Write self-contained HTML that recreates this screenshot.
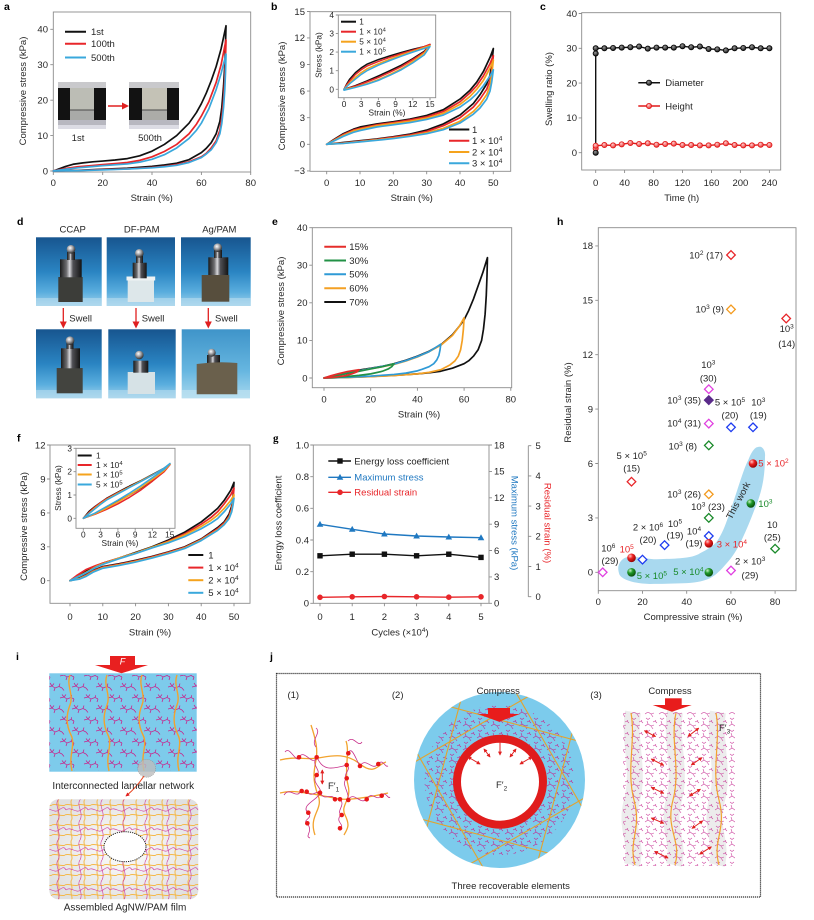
<!DOCTYPE html>
<html><head><meta charset="utf-8"><style>
html,body{margin:0;padding:0;background:#fff;}
svg{display:block;font-family:"Liberation Sans",Arial,sans-serif;}
.t{font-size:9.5px;fill:#262626;}
.s{font-size:8.3px;fill:#262626;}
.L{font-size:10.5px;font-weight:bold;fill:#000;}
.fr{fill:none;stroke:#8c8c8c;stroke-width:0.9;}
.tk{stroke:#8c8c8c;stroke-width:0.9;fill:none;}
.c{fill:none;stroke-width:1.7;vector-effect:non-scaling-stroke;stroke-linejoin:round;stroke-linecap:round;}
.ci{fill:none;stroke-width:1.5;vector-effect:non-scaling-stroke;stroke-linejoin:round;stroke-linecap:round;}
.lg{stroke-width:2;}
</style></head><body>
<svg width="814" height="920" viewBox="0 0 814 920" xmlns="http://www.w3.org/2000/svg">
<defs>
<linearGradient id="bg1" x1="0" y1="0" x2="0" y2="1"><stop offset="0" stop-color="#17558f"/><stop offset="0.5" stop-color="#2a84c2"/><stop offset="0.8" stop-color="#5aaede"/><stop offset="1" stop-color="#a2d3ec"/></linearGradient>
<linearGradient id="bg2" x1="0" y1="0" x2="0" y2="1"><stop offset="0" stop-color="#3f94c9"/><stop offset="0.6" stop-color="#66b6e0"/><stop offset="1" stop-color="#a8d8ee"/></linearGradient>
<linearGradient id="metal" x1="0" y1="0" x2="1" y2="0"><stop offset="0" stop-color="#1a1a1a"/><stop offset="0.3" stop-color="#6d6d70"/><stop offset="0.45" stop-color="#d8d8dc"/><stop offset="0.6" stop-color="#505055"/><stop offset="1" stop-color="#141414"/></linearGradient>
<radialGradient id="sph" cx="0.4" cy="0.35" r="0.7"><stop offset="0" stop-color="#ffffff"/><stop offset="0.45" stop-color="#a0a0a4"/><stop offset="1" stop-color="#1c1c1c"/></radialGradient>
<radialGradient id="gk" cx="0.4" cy="0.35" r="0.7"><stop offset="0" stop-color="#999"/><stop offset="1" stop-color="#0a0a0a"/></radialGradient>
<radialGradient id="gr" cx="0.4" cy="0.35" r="0.7"><stop offset="0" stop-color="#ffd0d0"/><stop offset="1" stop-color="#e82020"/></radialGradient>
<radialGradient id="sr" cx="0.35" cy="0.3" r="0.75"><stop offset="0" stop-color="#ffc8c8"/><stop offset="0.4" stop-color="#ee2222"/><stop offset="1" stop-color="#8a0000"/></radialGradient>
<radialGradient id="sg" cx="0.35" cy="0.3" r="0.75"><stop offset="0" stop-color="#c8f0c8"/><stop offset="0.4" stop-color="#1f9a2a"/><stop offset="1" stop-color="#084808"/></radialGradient>
<radialGradient id="gbox" cx="0.5" cy="0.5" r="0.6"><stop offset="0" stop-color="#fdfdfd"/><stop offset="1" stop-color="#e0e0e0"/></radialGradient>
<circle id="mkk" r="2.6" fill="url(#gk)" stroke="#000" stroke-width="0.8"/>
<circle id="mkr" r="2.6" fill="url(#gr)" stroke="#e01818" stroke-width="0.8"/>
<path id="tri" d="M-3.3,2.5 L3.3,2.5 L0,-3.4 Z" fill="#1f78c1"/>
<rect id="sq" x="-2.7" y="-2.7" width="5.4" height="5.4" fill="#111"/>
<circle id="rc" r="2.8" fill="#e8262a"/>
<path id="dm" d="M0,-4.3 L4.3,0 L0,4.3 L-4.3,0 Z" fill="#fff" stroke-width="1.3"/>
<marker id="ar" viewBox="0 0 6 6" refX="5" refY="3" markerWidth="4" markerHeight="4" orient="auto-start-reverse"><path d="M0,0 L6,3 L0,6 z" fill="#e02020"/></marker>
<pattern id="pbr" width="14" height="12" patternUnits="userSpaceOnUse"><path d="M1,6 L4,4 L7,6 M4,4 L3,1 M7,6 L9,9 M7,6 L10,5 M9,2 L11,1 L13,3 M11,1 L12,0.2 M2,10 L4,11.5 L6,10" fill="none" stroke="#c4258e" stroke-width="0.6"/></pattern>
<pattern id="pl" width="24" height="22" patternUnits="userSpaceOnUse"><path d="M0,5 L4,4 L7,6 L11,4.5 L14,6 M4,4 L2,1 M4,4 L6,1.5 M7,6 L6,9 M11,4.5 L12,1.5 M14,6 L16,8.5 M12,16 L16,15 L19,17 L23,15.5 L24,16 M16,15 L14,12.5 M16,15 L18,12.5 M19,17 L18,20 M23,15.5 L24,13 M0,16 L2,17 M2,17 L1,20" fill="none" stroke="#c8208a" stroke-width="0.75"/></pattern>
<pattern id="pg" width="13" height="10" patternUnits="userSpaceOnUse"><path d="M6.5,0 C4.5,3 8.5,7 6.5,10 M0,5 C3,3 10,7 13,5" stroke="#f4b848" stroke-width="1" fill="none"/></pattern>
<pattern id="pm" width="22" height="20" patternUnits="userSpaceOnUse"><path d="M0,10 C5,6 10,14 15,10 S21,8 22,10 M14,0 C10,5 18,13 14,20" stroke="#d040a0" stroke-width="0.65" fill="none"/></pattern>
<clipPath id="cbox"><rect x="49.3" y="799.3" width="149" height="100" rx="9"/></clipPath>
<clipPath id="cell"><ellipse cx="499.5" cy="780" rx="85.5" ry="88"/></clipPath>
<clipPath id="c3"><rect x="623" y="712" width="112" height="154"/></clipPath>
</defs>

<!-- ================= PANEL A ================= -->
<text class="L" x="4" y="10">a</text>
<rect class="fr" x="53.3" y="12" width="197.4" height="160"/>
<path class="tk" d="M53.3,171h-3M53.3,135.6h-3M53.3,100.2h-3M53.3,64.7h-3M53.3,29.3h-3M53.3,172v3M102.7,172v3M152,172v3M201.4,172v3M250.7,172v3"/>
<g class="t" text-anchor="end"><text x="48" y="174.3">0</text><text x="48" y="138.9">10</text><text x="48" y="103.5">20</text><text x="48" y="68">30</text><text x="48" y="32.6">40</text></g>
<g class="t" text-anchor="middle"><text x="53.3" y="186">0</text><text x="102.7" y="186">20</text><text x="152" y="186">40</text><text x="201.4" y="186">60</text><text x="250.7" y="186">80</text>
<text x="151.7" y="201">Strain (%)</text>
<text transform="translate(26,91) rotate(-90)">Compressive stress (kPa)</text></g>
<g transform="translate(53.3,171) scale(2.4675,-3.542)">
<path class="c" stroke="#111" d="M0,0 L2,0.5 5,1.3 8,1.9 12,2.3 16,2.6 20,2.8 25,3.1 30,3.5 35,4.3 40,5.6 45,7.5 50,10 55,13.5 58,16.5 60,19 62,22 64,25.5 66,29.5 68,34.5 70,41 69.8,36 69.5,30 69,24 68.3,18 67.5,14 66,10.5 64,8 62,6.4 60,5.2 55,3.2 50,2.2 45,1.7 40,1.3 30,0.8 20,0.5 10,0.2 0,0"/>
<path class="c" stroke="#e8262a" d="M0,0 L5,0.7 10,1.2 15,1.5 20,1.8 25,2.1 30,2.4 35,3 40,4 45,5.5 50,7.5 55,10.5 58,13.2 60,15.5 63,19.5 66,25 68,30 70,37 69.8,32 69.5,26 69,20 68.3,15 67.5,11.5 66,8.5 64,6.5 62,5 60,4 55,2.6 50,1.8 45,1.3 40,1 30,0.6 20,0.4 10,0.15 0,0"/>
<path class="c" stroke="#3aa8dc" d="M0,0 L5,0.5 10,0.9 15,1.2 20,1.5 25,1.75 30,2 35,2.5 40,3.3 45,4.6 50,6.5 55,9.2 58,11.5 60,13.5 63,17.5 66,23 68,27.5 70,33 69.8,28 69.5,23 69,18 68.3,13.5 67.5,10.5 66,8 64,6 62,4.8 60,3.8 55,2.4 50,1.6 45,1.2 40,0.9 30,0.55 20,0.3 10,0.1 0,0"/>
</g>
<line class="lg" x1="65" y1="31.7" x2="86" y2="31.7" stroke="#111"/>
<line class="lg" x1="65" y1="43.7" x2="86" y2="43.7" stroke="#e8262a"/>
<line class="lg" x1="65" y1="57.5" x2="86" y2="57.5" stroke="#3aa8dc"/>
<g class="t"><text x="91" y="35">1st</text><text x="91" y="47">100th</text><text x="91" y="60.8">500th</text></g>
<g>
<rect x="58" y="82" width="48" height="47" fill="#707070"/>
<rect x="58" y="82" width="48" height="6" fill="#c9c9cc"/>
<rect x="58" y="88" width="12" height="32" fill="#121212"/>
<rect x="94" y="88" width="12" height="32" fill="#121212"/>
<rect x="70" y="88" width="24" height="22" fill="#bcbdb5"/>
<rect x="70" y="110" width="24" height="10" fill="#a9aaa8"/>
<line x1="70" y1="110" x2="94" y2="110" stroke="#4a4a4a" stroke-width="1"/>
<rect x="58" y="120" width="48" height="5" fill="#b8b8c0"/>
<rect x="58" y="125" width="48" height="4" fill="#dcdce4"/>
<rect x="129" y="82" width="50" height="47" fill="#707070"/>
<rect x="129" y="82" width="50" height="6" fill="#c9c9cc"/>
<rect x="129" y="88" width="13" height="32" fill="#121212"/>
<rect x="167" y="88" width="12" height="32" fill="#121212"/>
<rect x="142" y="88" width="25" height="22" fill="#c4c2b6"/>
<rect x="142" y="110" width="25" height="10" fill="#acaca8"/>
<line x1="142" y1="110" x2="167" y2="110" stroke="#4a4a4a" stroke-width="1"/>
<rect x="129" y="120" width="50" height="5" fill="#b8b8c0"/>
<rect x="129" y="125" width="50" height="4" fill="#dcdce4"/>
<line x1="108" y1="106" x2="123" y2="106" stroke="#e02020" stroke-width="1.5"/>
<path d="M122,102.5 L129,106 L122,109.5 Z" fill="#e02020"/>
</g>
<g class="t" text-anchor="middle"><text x="78" y="141">1st</text><text x="150" y="141">500th</text></g>

<!-- ================= PANEL B ================= -->
<text class="L" x="271" y="10">b</text>
<rect class="fr" x="310" y="11.7" width="200.7" height="159.6"/>
<path class="tk" d="M310,11.5h-3M310,37.9h-3M310,64.5h-3M310,91.1h-3M310,117.7h-3M310,144.3h-3M310,170.9h-3M326.7,171.3v3M360,171.3v3M393.3,171.3v3M426.7,171.3v3M460,171.3v3M493.3,171.3v3"/>
<g class="t" text-anchor="end"><text x="305" y="14.8">15</text><text x="305" y="41.2">12</text><text x="305" y="67.8">9</text><text x="305" y="94.4">6</text><text x="305" y="121">3</text><text x="305" y="147.6">0</text><text x="305" y="174.2">−3</text></g>
<g class="t" text-anchor="middle"><text x="326.7" y="186">0</text><text x="360" y="186">10</text><text x="393.3" y="186">20</text><text x="426.7" y="186">30</text><text x="460" y="186">40</text><text x="493.3" y="186">50</text>
<text x="411.7" y="201">Strain (%)</text>
<text transform="translate(285,96) rotate(-90)">Compressive stress (kPa)</text></g>
<g transform="translate(326.7,144.3) scale(3.333,-8.867)">
<path class="c" stroke="#111" d="M0,0 L2,0.5 5,1.2 8,1.7 10,1.95 15,2.3 20,2.55 25,2.85 30,3.25 35,3.9 40,5.1 43,6.1 45,7 47,8.2 49,9.8 50,10.8 49.5,9 49,7.8 48,6.8 46,5.6 44,4.6 40,3.3 35,2.3 30,1.6 25,1.15 20,0.85 15,0.6 10,0.4 5,0.2 0,0"/>
<path class="c" stroke="#e8262a" d="M0,0 L2,0.45 5,1.1 8,1.6 10,1.8 15,2.2 20,2.45 25,2.75 30,3.1 35,3.7 40,4.8 43,5.8 45,6.6 47,7.7 49,9.1 50,10 49.5,8.3 49,7.2 48,6.2 46,5.1 44,4.2 40,3.0 35,2.1 30,1.45 25,1.05 20,0.8 15,0.55 10,0.35 5,0.15 0,0"/>
<path class="c" stroke="#f5a31d" d="M0,0 L2,0.4 5,1.0 8,1.5 10,1.7 15,2.1 20,2.35 25,2.6 30,2.95 35,3.5 40,4.5 43,5.4 45,6.2 47,7.2 49,8.6 50,9.5 49.5,7.8 49,6.6 48,5.6 46,4.5 44,3.7 40,2.6 35,1.8 30,1.3 25,0.95 20,0.7 15,0.5 10,0.3 5,0.12 0,0"/>
<path class="c" stroke="#3aa8dc" d="M0,0 L2,0.35 5,0.9 8,1.35 10,1.55 15,1.95 20,2.2 25,2.45 30,2.8 35,3.3 40,4.2 43,5 45,5.7 47,6.6 49,7.7 50,8.4 49.5,7 49,6 48,5.1 46,4.1 44,3.4 40,2.4 35,1.65 30,1.2 25,0.9 20,0.65 15,0.45 10,0.27 5,0.1 0,0"/>
</g>
<line class="lg" x1="449" y1="129.5" x2="469.3" y2="129.5" stroke="#111"/>
<line class="lg" x1="449" y1="140.7" x2="469.3" y2="140.7" stroke="#e8262a"/>
<line class="lg" x1="449" y1="152" x2="469.3" y2="152" stroke="#f5a31d"/>
<line class="lg" x1="449" y1="163.3" x2="469.3" y2="163.3" stroke="#3aa8dc"/>
<g class="t"><text x="472" y="132.8">1</text>
<text x="472" y="144">1 × 10<tspan dy="-3.5" font-size="6.5">4</tspan></text>
<text x="472" y="155.3">2 × 10<tspan dy="-3.5" font-size="6.5">4</tspan></text>
<text x="472" y="166.6">3 × 10<tspan dy="-3.5" font-size="6.5">4</tspan></text></g>
<rect x="338.3" y="15" width="97.4" height="82.7" fill="#fff" stroke="#8c8c8c" stroke-width="0.9"/>
<path class="tk" d="M338.3,15h-2.5M338.3,33.6h-2.5M338.3,52.1h-2.5M338.3,70.7h-2.5M338.3,89.3h-2.5M344,97.7v2.5M361.2,97.7v2.5M378.4,97.7v2.5M395.6,97.7v2.5M412.8,97.7v2.5M430,97.7v2.5"/>
<g class="s" text-anchor="end"><text x="334" y="18">4</text><text x="334" y="36.6">3</text><text x="334" y="55.1">2</text><text x="334" y="73.7">1</text><text x="334" y="92.3">0</text></g>
<g class="s" text-anchor="middle"><text x="344" y="107">0</text><text x="361.2" y="107">3</text><text x="378.4" y="107">6</text><text x="395.6" y="107">9</text><text x="412.8" y="107">12</text><text x="430" y="107">15</text>
<text x="387" y="115.5">Strain (%)</text>
<text transform="translate(321.5,55) rotate(-90)">Stress (kPa)</text></g>
<g transform="translate(344,89.3) scale(5.733,-18.58)">
<path class="ci" stroke="#111" d="M0,0 L0.5,0.3 1,0.55 2,0.9 3,1.15 4,1.35 6,1.6 8,1.8 10,1.98 12,2.15 14,2.3 15,2.4 14,2.05 12,1.65 10,1.3 8,1.0 6,0.72 4,0.45 2,0.2 1,0.1 0,0"/>
<path class="ci" stroke="#e8262a" d="M0,0 L0.5,0.25 1,0.45 2,0.8 3,1.05 4,1.25 6,1.5 8,1.72 10,1.92 12,2.1 14,2.3 15,2.42 14,2.0 12,1.6 10,1.22 8,0.92 6,0.64 4,0.4 2,0.17 0,0"/>
<path class="ci" stroke="#f5a31d" d="M0,0 L1,0.35 2,0.65 3,0.9 4,1.1 6,1.38 8,1.62 10,1.85 12,2.05 14,2.25 15,2.35 14,1.95 12,1.5 10,1.1 8,0.8 6,0.52 4,0.3 2,0.12 0,0"/>
<path class="ci" stroke="#3aa8dc" d="M0,0 L1,0.3 2,0.55 3,0.8 4,1.0 6,1.3 8,1.55 10,1.78 12,2.0 14,2.2 15,2.3 14,1.85 12,1.42 10,1.05 8,0.75 6,0.48 4,0.27 2,0.1 0,-0.05"/>
</g>
<line class="lg" x1="341" y1="21.7" x2="356" y2="21.7" stroke="#111"/>
<line class="lg" x1="341" y1="31.7" x2="356" y2="31.7" stroke="#e8262a"/>
<line class="lg" x1="341" y1="41.7" x2="356" y2="41.7" stroke="#f5a31d"/>
<line class="lg" x1="341" y1="51.7" x2="356" y2="51.7" stroke="#3aa8dc"/>
<g class="s"><text x="359.3" y="24.7">1</text>
<text x="359.3" y="34.7">1 × 10<tspan dy="-3" font-size="5.8">4</tspan></text>
<text x="359.3" y="44.7">5 × 10<tspan dy="-3" font-size="5.8">4</tspan></text>
<text x="359.3" y="54.7">1 × 10<tspan dy="-3" font-size="5.8">5</tspan></text></g>

<!-- ================= PANEL C ================= -->
<text class="L" x="540" y="10">c</text>
<rect class="fr" x="581.7" y="12.7" width="199" height="157.3"/>
<path class="tk" d="M581.7,13.5h-3M581.7,48.3h-3M581.7,83.1h-3M581.7,117.9h-3M581.7,152.7h-3M595.7,170v3M624.6,170v3M653.6,170v3M682.5,170v3M711.5,170v3M740.4,170v3M769.4,170v3"/>
<g class="t" text-anchor="end"><text x="577" y="16.8">40</text><text x="577" y="51.6">30</text><text x="577" y="86.4">20</text><text x="577" y="121.2">10</text><text x="577" y="156">0</text></g>
<g class="t" text-anchor="middle"><text x="595.7" y="186">0</text><text x="624.6" y="186">40</text><text x="653.6" y="186">80</text><text x="682.5" y="186">120</text><text x="711.5" y="186">160</text><text x="740.4" y="186">200</text><text x="769.4" y="186">240</text>
<text x="681.7" y="201">Time (h)</text>
<text transform="translate(552,89) rotate(-90)">Swelling ratio (%)</text></g>
<polyline fill="none" stroke="#e01818" stroke-width="1.4" points="595.7,148.5 595.7,145.74 604.4,145.04 613.1,145.39 621.7,144.35 630.4,142.96 639.1,144 647.8,143.3 656.5,144.7 665.2,144 673.8,143.65 682.5,145.04 691.2,145.04 699.9,145.39 708.6,145.39 717.3,144.7 725.9,143.3 734.6,145.04 743.3,145.39 752,145.39 760.7,144.7 769.4,145.04"/>
<polyline fill="none" stroke="#111" stroke-width="1.4" points="595.7,152.7 595.7,53.5 595.7,48.3 604.4,48.3 613.1,47.95 621.7,47.6 630.4,47.26 639.1,46.56 647.8,48.65 656.5,47.6 665.2,47.6 673.8,47.6 682.5,46.2 691.2,47.26 699.9,46.56 708.6,49 717.3,49.35 725.9,50.4 734.6,48.3 743.3,47.95 752,47.26 760.7,48.3 769.4,48.3"/>
<g>
<use href="#mkr" x="595.7" y="148.5"/><use href="#mkr" x="595.7" y="145.74"/><use href="#mkr" x="604.4" y="145.04"/><use href="#mkr" x="613.1" y="145.39"/><use href="#mkr" x="621.7" y="144.35"/><use href="#mkr" x="630.4" y="142.96"/><use href="#mkr" x="639.1" y="144"/><use href="#mkr" x="647.8" y="143.3"/><use href="#mkr" x="656.5" y="144.7"/><use href="#mkr" x="665.2" y="144"/><use href="#mkr" x="673.8" y="143.65"/><use href="#mkr" x="682.5" y="145.04"/><use href="#mkr" x="691.2" y="145.04"/><use href="#mkr" x="699.9" y="145.39"/><use href="#mkr" x="708.6" y="145.39"/><use href="#mkr" x="717.3" y="144.7"/><use href="#mkr" x="725.9" y="143.3"/><use href="#mkr" x="734.6" y="145.04"/><use href="#mkr" x="743.3" y="145.39"/><use href="#mkr" x="752" y="145.39"/><use href="#mkr" x="760.7" y="144.7"/><use href="#mkr" x="769.4" y="145.04"/>
<use href="#mkk" x="595.7" y="152.7"/><use href="#mkk" x="595.7" y="53.5"/><use href="#mkk" x="595.7" y="48.3"/><use href="#mkk" x="604.4" y="48.3"/><use href="#mkk" x="613.1" y="47.95"/><use href="#mkk" x="621.7" y="47.6"/><use href="#mkk" x="630.4" y="47.26"/><use href="#mkk" x="639.1" y="46.56"/><use href="#mkk" x="647.8" y="48.65"/><use href="#mkk" x="656.5" y="47.6"/><use href="#mkk" x="665.2" y="47.6"/><use href="#mkk" x="673.8" y="47.6"/><use href="#mkk" x="682.5" y="46.2"/><use href="#mkk" x="691.2" y="47.26"/><use href="#mkk" x="699.9" y="46.56"/><use href="#mkk" x="708.6" y="49"/><use href="#mkk" x="717.3" y="49.35"/><use href="#mkk" x="725.9" y="50.4"/><use href="#mkk" x="734.6" y="48.3"/><use href="#mkk" x="743.3" y="47.95"/><use href="#mkk" x="752" y="47.26"/><use href="#mkk" x="760.7" y="48.3"/><use href="#mkk" x="769.4" y="48.3"/>
</g>
<line x1="638.3" y1="82.7" x2="660" y2="82.7" stroke="#111" stroke-width="1.5"/><use href="#mkk" x="649" y="82.7"/>
<line x1="638.3" y1="106" x2="660" y2="106" stroke="#e01818" stroke-width="1.5"/><use href="#mkr" x="649" y="106"/>
<g class="t"><text x="665.3" y="86">Diameter</text><text x="665.3" y="109.3">Height</text></g>

<!-- ================= PANEL D ================= -->
<text class="L" x="17" y="225">d</text>
<g class="t" text-anchor="middle"><text x="72.7" y="232.5">CCAP</text><text x="141.7" y="232.5">DF-PAM</text><text x="219.3" y="232.5">Ag/PAM</text></g>
<rect x="36" y="237.3" width="65.7" height="68.7" fill="url(#bg1)"/>
<rect x="36" y="298" width="65.7" height="8" fill="#b8dcee" opacity="0.6"/>
<rect x="58.3" y="277" width="24.4" height="25" fill="#3c3d39"/>
<rect x="60" y="259.3" width="21.7" height="18" fill="url(#metal)"/>
<rect x="67" y="252" width="8" height="8" fill="url(#metal)"/>
<circle cx="71" cy="249.3" r="4.3" fill="url(#sph)"/>
<rect x="106.7" y="237.3" width="68.3" height="68.7" fill="url(#bg1)"/>
<rect x="106.7" y="298" width="68.3" height="8" fill="#b8dcee" opacity="0.6"/>
<rect x="127.7" y="278" width="26.3" height="24" fill="#dde7ea"/>
<rect x="126.5" y="276.5" width="28.7" height="4" fill="#eef3f4"/>
<rect x="132.7" y="262.7" width="14" height="15.6" fill="url(#metal)"/>
<rect x="136" y="256" width="7" height="7" fill="url(#metal)"/>
<circle cx="139.3" cy="253.3" r="4.3" fill="url(#sph)"/>
<rect x="181" y="237.3" width="69.7" height="68.7" fill="url(#bg1)"/>
<rect x="181" y="298" width="69.7" height="8" fill="#b8dcee" opacity="0.6"/>
<rect x="201.7" y="275" width="27.6" height="26.7" fill="#574e3d"/>
<rect x="208.3" y="257.3" width="20" height="17.7" fill="url(#metal)"/>
<rect x="214" y="250" width="8" height="8" fill="url(#metal)"/>
<circle cx="217.7" cy="247.7" r="4.3" fill="url(#sph)"/>
<rect x="36" y="329.3" width="65.7" height="69" fill="url(#bg1)"/>
<rect x="36" y="390" width="65.7" height="8.3" fill="#b8dcee" opacity="0.6"/>
<rect x="56.7" y="368" width="26" height="25.3" fill="#43443f"/>
<rect x="61" y="348.3" width="19" height="20" fill="url(#metal)"/>
<rect x="66.5" y="343" width="7" height="6" fill="url(#metal)"/>
<circle cx="70" cy="340.7" r="4.3" fill="url(#sph)"/>
<rect x="108.3" y="329.3" width="67.4" height="69" fill="url(#bg1)"/>
<rect x="108.3" y="390" width="67.4" height="8.3" fill="#b8dcee" opacity="0.6"/>
<rect x="127.7" y="372" width="27.3" height="22" fill="#d6e2e6"/>
<rect x="133.3" y="360.7" width="15" height="12" fill="url(#metal)"/>
<circle cx="139.3" cy="355" r="4.3" fill="url(#sph)"/>
<rect x="181.7" y="329.3" width="68.3" height="69" fill="url(#bg2)"/>
<rect x="181.7" y="390" width="68.3" height="8.3" fill="#c4e4f2" opacity="0.6"/>
<rect x="207" y="355" width="13" height="9" fill="url(#metal)"/>
<circle cx="211.7" cy="352.7" r="4" fill="url(#sph)"/>
<path d="M196.7,364 Q217,361 237.3,363 L237.3,394.3 L196.7,394.3 Z" fill="#6a604c"/>
<g stroke="#e02020" stroke-width="1.3"><line x1="63.3" y1="308" x2="63.3" y2="323"/><line x1="136" y1="308" x2="136" y2="323"/><line x1="208.3" y1="308" x2="208.3" y2="323"/></g>
<g fill="#e02020"><path d="M59.8,321.5 L66.8,321.5 L63.3,328.5 Z"/><path d="M132.5,321.5 L139.5,321.5 L136,328.5 Z"/><path d="M204.8,321.5 L211.8,321.5 L208.3,328.5 Z"/></g>
<g class="t"><text x="69.3" y="321.5">Swell</text><text x="141.7" y="321.5">Swell</text><text x="215" y="321.5">Swell</text></g>

<!-- ================= PANEL E ================= -->
<text class="L" x="272" y="225">e</text>
<rect class="fr" x="312.3" y="227.7" width="199.4" height="160"/>
<path class="tk" d="M312.3,227.7h-3M312.3,265.2h-3M312.3,302.8h-3M312.3,340.4h-3M312.3,378h-3M324,387.7v3M370.7,387.7v3M417.4,387.7v3M464.1,387.7v3M510.8,387.7v3"/>
<g class="t" text-anchor="end"><text x="307.5" y="231">40</text><text x="307.5" y="268.5">30</text><text x="307.5" y="306.1">20</text><text x="307.5" y="343.7">10</text><text x="307.5" y="381.3">0</text></g>
<g class="t" text-anchor="middle"><text x="324" y="402.5">0</text><text x="370.7" y="402.5">20</text><text x="417.4" y="402.5">40</text><text x="464.1" y="402.5">60</text><text x="510.8" y="402.5">80</text>
<text x="419" y="417.5">Strain (%)</text>
<text transform="translate(284,311) rotate(-90)">Compressive stress (kPa)</text></g>
<g transform="translate(324,378) scale(2.335,-3.76)">
<path class="c" stroke="#111" d="M0,0 L5,0.8 10,1.5 15,2.1 20,2.6 25,3.1 30,3.8 35,4.7 40,5.8 45,7.1 50,8.8 55,11.5 58,13.8 60,15.5 62,18 64,21 66,24.5 68,28 70,32 69.8,27 69.5,22 69,17 68.3,13 67.5,10 66,7.5 64,5.8 62,4.6 60,3.8 55,2.6 50,1.8 45,1.4 40,1.1 30,0.7 20,0.4 10,0.15 0,0"/>
<path class="c" stroke="#f4a024" d="M0,0 L5,0.7 10,1.3 15,1.9 20,2.5 25,3.0 30,3.6 35,4.5 40,5.6 45,7.0 50,8.7 55,11.3 58,13.8 60,16 59.7,13 59.2,10 58.5,7.5 57.5,5.8 56,4.5 54,3.5 50,2.2 45,1.5 40,1.1 30,0.65 20,0.35 10,0.12 0,0"/>
<path class="c" stroke="#2f9ad6" d="M0,0 L5,0.7 10,1.3 15,1.9 20,2.5 25,3.1 30,3.7 35,4.6 40,5.7 45,7.0 50,9 49.7,7.5 49.2,6 48.3,4.8 47,3.8 45,3.0 42,2.3 40,1.9 35,1.3 30,0.95 20,0.5 10,0.2 0,0"/>
<path class="c" stroke="#229146" d="M0,0 L5,0.6 10,1.2 15,1.8 20,2.4 25,3.0 30,3.8 29,3.0 27.5,2.4 25,1.8 20,1.1 15,0.7 10,0.4 5,0.15 0,0"/>
<path class="c" stroke="#e52d2a" d="M0,0 L3,0.6 6,1.1 10,1.7 13,2.0 15,2.2 14,1.6 12,1.1 9,0.6 5,0.25 0,0"/>
</g>
<line class="lg" x1="324.3" y1="246.7" x2="346" y2="246.7" stroke="#e52d2a"/>
<line class="lg" x1="324.3" y1="260.5" x2="346" y2="260.5" stroke="#229146"/>
<line class="lg" x1="324.3" y1="274.3" x2="346" y2="274.3" stroke="#2f9ad6"/>
<line class="lg" x1="324.3" y1="288.2" x2="346" y2="288.2" stroke="#f4a024"/>
<line class="lg" x1="324.3" y1="302" x2="346" y2="302" stroke="#111"/>
<g class="t"><text x="349.3" y="250">15%</text><text x="349.3" y="263.8">30%</text><text x="349.3" y="277.6">50%</text><text x="349.3" y="291.5">60%</text><text x="349.3" y="305.3">70%</text></g>

<!-- ================= PANEL H ================= -->
<text class="L" x="557" y="225">h</text>
<path d="M618.3,566.7 C620,560 624,557 630,556.7 C640,557 650,559.5 656.7,559.3 C666,559 674,558.8 680,558.3 C690,557.5 696,556 700,553.3 C708,549 713,546 716.7,541.7 C722,534 725,526 728.3,516.7 C732,506 735,497 738.3,486.7 C742,476 745,466 748.3,460 C751,453 754,448.5 756.7,447.3 C759,446.5 761,446.5 761.7,447.3 C764,449 765.5,452 765,456.7 C765,465 764.5,472 763.3,480 C761.5,491 758.5,500 755,508.3 C751,519 746.5,530 741.7,540 C737,550 732,557.5 726.7,563.3 C721,570 716,575 710,578.3 C702,582 693,583 683.3,583.3 C672,583.7 660,584 650,584 C641,583.8 633,582.5 626.7,580 C622,578 619.5,576 619,573.3 C618.5,571 618,569 618.3,566.7 Z" fill="#a9d9ef"/>
<rect class="fr" x="598.3" y="227.7" width="197.7" height="363"/>
<path class="tk" d="M598.3,245.9h-3M598.3,300.3h-3M598.3,354.7h-3M598.3,409.1h-3M598.3,463.5h-3M598.3,517.9h-3M598.3,572.3h-3M598.3,590.7v3M642.5,590.7v3M686.7,590.7v3M730.9,590.7v3M775.1,590.7v3"/>
<g class="t" text-anchor="end"><text x="593" y="249.2">18</text><text x="593" y="303.6">15</text><text x="593" y="358">12</text><text x="593" y="412.4">9</text><text x="593" y="466.8">6</text><text x="593" y="521.2">3</text><text x="593" y="575.6">0</text></g>
<g class="t" text-anchor="middle"><text x="598.3" y="605">0</text><text x="642.5" y="605">20</text><text x="686.7" y="605">40</text><text x="730.9" y="605">60</text><text x="775.1" y="605">80</text>
<text x="693" y="620">Compressive strain (%)</text>
<text transform="translate(571,402.5) rotate(-90)">Residual strain (%)</text>
<text transform="translate(741,502) rotate(-62)">This work</text></g>
<use href="#dm" x="731" y="255" stroke="#e8262a"/>
<use href="#dm" x="731" y="309.4" stroke="#f39a1e"/>
<use href="#dm" x="786.2" y="318.5" stroke="#e8262a"/>
<use href="#dm" x="708.8" y="389.2" stroke="#e040e0"/>
<path d="M708.8,395.8 L713.1,400.1 L708.8,404.4 L704.5,400.1 Z" fill="#5a2a8a" stroke="#5a2a8a" stroke-width="1.3"/>
<use href="#dm" x="731" y="427.3" stroke="#1e3cf0"/>
<use href="#dm" x="753" y="427.3" stroke="#1e3cf0"/>
<use href="#dm" x="708.8" y="423.6" stroke="#e040e0"/>
<use href="#dm" x="708.8" y="445.4" stroke="#1a8a2a"/>
<use href="#dm" x="631.5" y="481.7" stroke="#e8262a"/>
<use href="#dm" x="708.8" y="494.3" stroke="#f39a1e"/>
<use href="#dm" x="708.8" y="517.9" stroke="#1a8a2a"/>
<use href="#dm" x="708.8" y="536" stroke="#1e3cf0"/>
<use href="#dm" x="664.6" y="545.1" stroke="#1e3cf0"/>
<use href="#dm" x="642.5" y="559.6" stroke="#1e3cf0"/>
<use href="#dm" x="602.7" y="572.3" stroke="#e040e0"/>
<use href="#dm" x="731" y="570.5" stroke="#e040e0"/>
<use href="#dm" x="775.1" y="548.7" stroke="#1a8a2a"/>
<circle cx="753" cy="463.5" r="4.3" fill="url(#sr)"/>
<circle cx="750.8" cy="503.4" r="4.3" fill="url(#sg)"/>
<circle cx="708.8" cy="543.3" r="4.3" fill="url(#sr)"/>
<circle cx="631.5" cy="557.8" r="4.3" fill="url(#sr)"/>
<circle cx="631.5" cy="572.3" r="4.3" fill="url(#sg)"/>
<circle cx="708.8" cy="572.3" r="4.3" fill="url(#sg)"/>
<g class="t" text-anchor="end">
<text x="723" y="258.5">10<tspan dy="-3.5" font-size="6.5">2</tspan><tspan dy="3.5"> (17)</tspan></text>
<text x="724" y="312.5">10<tspan dy="-3.5" font-size="6.5">3</tspan><tspan dy="3.5"> (9)</tspan></text>
<text x="701" y="403.5">10<tspan dy="-3.5" font-size="6.5">3</tspan><tspan dy="3.5"> (35)</tspan></text>
<text x="701" y="426.5">10<tspan dy="-3.5" font-size="6.5">4</tspan><tspan dy="3.5"> (31)</tspan></text>
<text x="697" y="449.5">10<tspan dy="-3.5" font-size="6.5">3</tspan><tspan dy="3.5"> (8)</tspan></text>
<text x="701" y="497.5">10<tspan dy="-3.5" font-size="6.5">3</tspan><tspan dy="3.5"> (26)</tspan></text>
<text x="703.5" y="575" fill="#1a8a2a">5 × 10<tspan dy="-3.5" font-size="6.5">4</tspan></text>
</g>
<g class="t" text-anchor="middle">
<text x="786.7" y="332">10<tspan dy="-3.5" font-size="6.5">3</tspan></text><text x="786.7" y="347">(14)</text>
<text x="708.3" y="368">10<tspan dy="-3.5" font-size="6.5">3</tspan></text><text x="708.3" y="381.5">(30)</text>
<text x="730" y="405.5">5 × 10<tspan dy="-3.5" font-size="6.5">5</tspan></text><text x="730" y="418.5">(20)</text>
<text x="758.3" y="405.5">10<tspan dy="-3.5" font-size="6.5">3</tspan></text><text x="758.3" y="418.5">(19)</text>
<text x="631.7" y="459">5 × 10<tspan dy="-3.5" font-size="6.5">5</tspan></text><text x="631.7" y="471.5">(15)</text>
<text x="708" y="510">10<tspan dy="-3.5" font-size="6.5">3</tspan><tspan dy="3.5"> (23)</tspan></text>
<text x="694" y="534.5">10<tspan dy="-3.5" font-size="6.5">4</tspan></text><text x="694" y="546.5">(19)</text>
<text x="675" y="527">10<tspan dy="-3.5" font-size="6.5">5</tspan></text><text x="675" y="538.5">(19)</text>
<text x="648" y="530.5">2 × 10<tspan dy="-3.5" font-size="6.5">6</tspan></text><text x="648" y="543">(20)</text>
<text x="608.3" y="551.5">10<tspan dy="-3.5" font-size="6.5">6</tspan></text><text x="610" y="564">(29)</text>
<text x="750" y="578.5">(29)</text>
<text x="772.3" y="528">10</text><text x="772.3" y="540.5">(25)</text>
<text x="626.7" y="552.5" fill="#e8262a">10<tspan dy="-3.5" font-size="6.5">5</tspan></text>
</g>
<g class="t">
<text x="758.3" y="466.5" fill="#e8262a">5 × 10<tspan dy="-3.5" font-size="6.5">2</tspan></text>
<text x="758.3" y="507" fill="#1a8a2a">10<tspan dy="-3.5" font-size="6.5">3</tspan></text>
<text x="716.7" y="547.5" fill="#e8262a">3 × 10<tspan dy="-3.5" font-size="6.5">4</tspan></text>
<text x="636.7" y="579" fill="#1a8a2a">5 × 10<tspan dy="-3.5" font-size="6.5">5</tspan></text>
<text x="735" y="564.5">2 × 10<tspan dy="-3.5" font-size="6.5">3</tspan></text>
</g>

<!-- ================= PANEL F ================= -->
<text class="L" x="17" y="441.5">f</text>
<rect class="fr" x="50" y="445" width="200" height="158.3"/>
<path class="tk" d="M50,445h-3M50,479h-3M50,512.9h-3M50,546.8h-3M50,580.7h-3M70,603.3v3M102.8,603.3v3M135.6,603.3v3M168.4,603.3v3M201.2,603.3v3M234,603.3v3"/>
<g class="t" text-anchor="end"><text x="45.5" y="448.3">12</text><text x="45.5" y="482.3">9</text><text x="45.5" y="516.2">6</text><text x="45.5" y="550.1">3</text><text x="45.5" y="584">0</text></g>
<g class="t" text-anchor="middle"><text x="70" y="620">0</text><text x="102.8" y="620">10</text><text x="135.6" y="620">20</text><text x="168.4" y="620">30</text><text x="201.2" y="620">40</text><text x="234" y="620">50</text>
<text x="150" y="635.5">Strain (%)</text>
<text transform="translate(27,526.5) rotate(-90)">Compressive stress (kPa)</text></g>
<g transform="translate(70,580.7) scale(3.28,-11.3)">
<path class="c" stroke="#111" d="M0,0 L2,0.4 5,0.9 8,1.3 10,1.55 15,2.0 20,2.5 25,3.0 30,3.6 35,4.3 40,5.2 43,5.9 45,6.4 47,7.1 49,8.0 50,8.7 49.7,7.5 49.3,6.6 48.5,5.9 47,5.2 45,4.7 40,3.7 35,3.0 30,2.55 25,2.15 20,1.8 15,1.5 10,1.25 7,0.9 5,0.55 3,0.25 0,0"/>
<path class="c" stroke="#e8262a" d="M0,0 L2,0.45 5,1.0 8,1.35 10,1.55 15,2.0 20,2.45 25,2.95 30,3.5 35,4.15 40,5.0 43,5.6 45,6.1 47,6.8 49,7.6 50,8.2 49.7,7.2 49.3,6.4 48.5,5.7 47,5.1 45,4.6 40,3.65 35,2.95 30,2.5 25,2.1 20,1.75 15,1.45 10,1.2 7,0.85 5,0.5 3,0.2 0,0"/>
<path class="c" stroke="#f5a31d" d="M0,0 L2,0.3 5,0.75 8,1.25 10,1.5 15,2.0 20,2.45 25,2.95 30,3.45 35,4.05 40,4.8 43,5.35 45,5.8 47,6.4 49,7.1 50,7.6 49.7,6.9 49.3,6.2 48.5,5.6 47,5.0 45,4.5 40,3.6 35,2.9 30,2.45 25,2.05 20,1.7 15,1.4 10,1.15 7,0.8 5,0.45 3,0.2 0,0"/>
<path class="c" stroke="#3aa8dc" d="M0,0 L2,0.3 5,0.7 8,1.2 10,1.45 15,1.95 20,2.4 25,2.9 30,3.35 35,3.9 40,4.6 43,5.1 45,5.5 47,6.1 49,6.8 50,7.3 49.7,6.7 49.3,6.1 48.5,5.5 47,4.95 45,4.45 40,3.55 35,2.85 30,2.4 25,2.0 20,1.65 15,1.35 10,1.1 7,0.75 5,0.4 3,0.15 0,0"/>
</g>
<line class="lg" x1="188.3" y1="555" x2="203.3" y2="555" stroke="#111"/>
<line class="lg" x1="188.3" y1="567.6" x2="203.3" y2="567.6" stroke="#e8262a"/>
<line class="lg" x1="188.3" y1="580.2" x2="203.3" y2="580.2" stroke="#f5a31d"/>
<line class="lg" x1="188.3" y1="592.8" x2="203.3" y2="592.8" stroke="#3aa8dc"/>
<g class="t"><text x="208.3" y="558.3">1</text>
<text x="208.3" y="570.9">1 × 10<tspan dy="-3.5" font-size="6.5">4</tspan></text>
<text x="208.3" y="583.5">2 × 10<tspan dy="-3.5" font-size="6.5">4</tspan></text>
<text x="208.3" y="596.1">5 × 10<tspan dy="-3.5" font-size="6.5">4</tspan></text></g>
<rect x="76" y="448.3" width="99" height="80" fill="#fff" stroke="#8c8c8c" stroke-width="0.9"/>
<path class="tk" d="M76,518.3h-2.5M76,495h-2.5M76,471.7h-2.5M76,448.3h-2.5M83.3,528.3v2.5M100.6,528.3v2.5M117.9,528.3v2.5M135.2,528.3v2.5M152.4,528.3v2.5M169.7,528.3v2.5"/>
<g class="s" text-anchor="end"><text x="72" y="521.3">0</text><text x="72" y="498">1</text><text x="72" y="474.7">2</text><text x="72" y="451.3">3</text></g>
<g class="s" text-anchor="middle"><text x="83.3" y="537.5">0</text><text x="100.6" y="537.5">3</text><text x="117.9" y="537.5">6</text><text x="135.2" y="537.5">9</text><text x="152.4" y="537.5">12</text><text x="169.7" y="537.5">15</text>
<text x="120" y="546">Strain (%)</text>
<text transform="translate(61,488) rotate(-90)">Stress (kPa)</text></g>
<g transform="translate(83.3,518.3) scale(5.778,-23.33)">
<path class="ci" stroke="#111" d="M0,0 L1,0.3 2,0.5 3,0.68 4,0.85 6,1.12 8,1.38 10,1.62 12,1.88 14,2.15 15,2.32 14,2.05 12,1.65 10,1.3 8,1.0 6,0.72 4,0.45 2,0.2 0,0"/>
<path class="ci" stroke="#e8262a" d="M0,0 L1,0.25 2,0.48 3,0.67 4,0.83 6,1.1 8,1.35 10,1.6 12,1.86 14,2.14 15,2.3 14,2.0 12,1.6 10,1.22 8,0.9 6,0.62 4,0.38 2,0.17 0,0"/>
<path class="ci" stroke="#f5a31d" d="M0,0 L1,0.22 2,0.44 3,0.63 4,0.8 6,1.08 8,1.34 10,1.6 12,1.86 14,2.14 15,2.32 14,2.05 12,1.68 10,1.32 8,1.0 6,0.7 4,0.43 2,0.19 0,0"/>
<path class="ci" stroke="#3aa8dc" d="M0,0 L1,0.2 2,0.4 3,0.6 4,0.78 6,1.05 8,1.32 10,1.58 12,1.85 14,2.15 15,2.35 14,2.1 12,1.75 10,1.4 8,1.08 6,0.78 4,0.5 2,0.22 0,0"/>
</g>
<line class="lg" x1="77.7" y1="455.5" x2="91.7" y2="455.5" stroke="#111"/>
<line class="lg" x1="77.7" y1="465" x2="91.7" y2="465" stroke="#e8262a"/>
<line class="lg" x1="77.7" y1="474.5" x2="91.7" y2="474.5" stroke="#f5a31d"/>
<line class="lg" x1="77.7" y1="484.5" x2="91.7" y2="484.5" stroke="#3aa8dc"/>
<g class="s"><text x="96" y="458.5">1</text>
<text x="96" y="468">1 × 10<tspan dy="-3" font-size="5.8">4</tspan></text>
<text x="96" y="477.5">1 × 10<tspan dy="-3" font-size="5.8">5</tspan></text>
<text x="96" y="487.5">5 × 10<tspan dy="-3" font-size="5.8">5</tspan></text></g>

<!-- ================= PANEL G ================= -->
<text x="273" y="441.5" style="font-family:'Liberation Serif',serif;font-size:11px;font-weight:bold;">g</text>
<rect class="fr" x="313.3" y="445" width="175.7" height="158.3"/>
<path class="tk" d="M313.3,445h-3M313.3,476.7h-3M313.3,508.3h-3M313.3,540h-3M313.3,571.7h-3M313.3,603.3h-3M489,445h3M489,471.4h3M489,497.8h3M489,524.2h3M489,550.5h3M489,576.9h3M489,603.3h3M320,603.3v3M352.2,603.3v3M384.4,603.3v3M416.6,603.3v3M448.8,603.3v3M481,603.3v3"/>
<path class="tk" d="M528.3,445.7V596.7M528.3,445.7h3M528.3,475.9h3M528.3,506.1h3M528.3,536.3h3M528.3,566.5h3M528.3,596.7h3"/>
<g class="t" text-anchor="end"><text x="309" y="448.3">1.0</text><text x="309" y="480">0.8</text><text x="309" y="511.6">0.6</text><text x="309" y="543.3">0.4</text><text x="309" y="575">0.2</text><text x="309" y="606.6">0</text></g>
<g class="t"><text x="494" y="448.3">18</text><text x="494" y="474.7">15</text><text x="494" y="501.1">12</text><text x="494" y="527.5">9</text><text x="494" y="553.8">6</text><text x="494" y="580.2">3</text><text x="494" y="606.6">0</text>
<text x="535.5" y="449">5</text><text x="535.5" y="479.2">4</text><text x="535.5" y="509.4">3</text><text x="535.5" y="539.6">2</text><text x="535.5" y="569.8">1</text><text x="535.5" y="600">0</text></g>
<g class="t" text-anchor="middle"><text x="320" y="620">0</text><text x="352.2" y="620">1</text><text x="384.4" y="620">2</text><text x="416.6" y="620">3</text><text x="448.8" y="620">4</text><text x="481" y="620">5</text>
<text x="400" y="635.5">Cycles (×10<tspan dy="-3.5" font-size="6.5">4</tspan><tspan dy="3.5">)</tspan></text>
<text transform="translate(281.5,523) rotate(-90)">Energy loss coefficient</text>
<text transform="translate(511.5,523) rotate(90)" fill="#1f78c1">Maximum stress (kPa)</text>
<text transform="translate(544.5,523) rotate(90)" fill="#e8262a">Residual strain (%)</text></g>
<polyline fill="none" stroke="#1f78c1" stroke-width="1.4" points="320,524.3 352.2,529.3 384.4,534 416.6,536 448.8,537 481,537.7"/>
<polyline fill="none" stroke="#111" stroke-width="1.4" points="320,555.8 352.2,554.2 384.4,554.2 416.6,555.8 448.8,554.2 481,557.4"/>
<polyline fill="none" stroke="#e8262a" stroke-width="1.4" points="320,597.3 352.2,596.8 384.4,596.5 416.6,596.8 448.8,597.2 481,596.8"/>
<use href="#tri" x="320" y="524.3"/><use href="#tri" x="352.2" y="529.3"/><use href="#tri" x="384.4" y="534"/><use href="#tri" x="416.6" y="536"/><use href="#tri" x="448.8" y="537"/><use href="#tri" x="481" y="537.7"/>
<use href="#sq" x="320" y="555.8"/><use href="#sq" x="352.2" y="554.2"/><use href="#sq" x="384.4" y="554.2"/><use href="#sq" x="416.6" y="555.8"/><use href="#sq" x="448.8" y="554.2"/><use href="#sq" x="481" y="557.4"/>
<use href="#rc" x="320" y="597.3"/><use href="#rc" x="352.2" y="596.8"/><use href="#rc" x="384.4" y="596.5"/><use href="#rc" x="416.6" y="596.8"/><use href="#rc" x="448.8" y="597.2"/><use href="#rc" x="481" y="596.8"/>
<line x1="328.3" y1="461" x2="351" y2="461" stroke="#111" stroke-width="1.4"/><use href="#sq" x="340" y="461"/>
<line x1="328.3" y1="477.3" x2="351" y2="477.3" stroke="#1f78c1" stroke-width="1.4"/><use href="#tri" x="340" y="477.3"/>
<line x1="328.3" y1="492.3" x2="351" y2="492.3" stroke="#e8262a" stroke-width="1.4"/><use href="#rc" x="340" y="492.3"/>
<g class="t"><text x="354.3" y="464.3">Energy loss coefficient</text><text x="354.3" y="480.6" fill="#1f78c1">Maximum stress</text><text x="354.3" y="495.6" fill="#e8262a">Residual strain</text></g>

<!-- ================= PANEL I ================= -->
<text class="L" x="16" y="660">i</text>
<rect x="49.3" y="673.3" width="147.4" height="98.4" fill="#7dcbeb"/>
<rect x="49.3" y="675" width="147.4" height="96" fill="url(#pl)"/>
<g fill="none" stroke="#f2a32e" stroke-width="1.4">
<path d="M70,675 C66,685 74,695 70,705 S66,725 71,735 S68,755 72,771"/>
<path d="M107,675 C103,685 111,695 107,705 S103,725 108,735 S105,755 109,771"/>
<path d="M142,675 C138,685 146,695 142,705 S138,725 143,735 S140,755 144,771"/>
<path d="M177,675 C173,685 181,695 177,705 S173,725 178,735 S175,755 179,771"/>
</g>
<rect x="110" y="656" width="25" height="9" fill="#e82020"/>
<path d="M95,665 L148,665 L121.5,673.3 Z" fill="#e82020"/>
<text x="122.5" y="664.5" text-anchor="middle" style="font-size:9px;font-style:italic;fill:#fff;">F</text>
<circle cx="146.7" cy="768.3" r="9" fill="#bdbdbd" opacity="0.8" stroke="#888" stroke-width="0.6" stroke-dasharray="1,1"/>
<path d="M144,776 Q136,788 126,796" fill="none" stroke="#e8401a" stroke-width="1" marker-end="url(#ar)"/>
<text x="123.3" y="789" text-anchor="middle" style="font-size:10px;fill:#262626;">Interconnected lamellar network</text>
<rect x="49.3" y="799.3" width="149" height="100" rx="9" fill="url(#gbox)"/>
<g clip-path="url(#cbox)">
<rect x="49.3" y="799.3" width="149" height="100" fill="url(#pg)"/>
<rect x="49.3" y="799.3" width="149" height="100" fill="url(#pm)"/>
</g>
<ellipse cx="125" cy="846.7" rx="21" ry="15" fill="#fff" stroke="#222" stroke-width="1" stroke-dasharray="1.2,1"/>
<text x="125" y="910.5" text-anchor="middle" style="font-size:10px;fill:#262626;">Assembled AgNW/PAM film</text>

<!-- ================= PANEL J ================= -->
<text class="L" x="270" y="660">j</text>
<rect x="276.5" y="673.5" width="484" height="223.5" fill="none" stroke="#333" stroke-width="1.2" stroke-dasharray="1.2,0.8"/>
<g fill="none" stroke="#f2a32e" stroke-width="1.3">
<path d="M280,760 C295,756 305,760 318,758 S345,752 360,764 S378,764 386,762"/>
<path d="M280,793 C292,790 300,792 318,795 S340,800 352,799 S375,796 388,793"/>
<path d="M311,725 C316,740 318,750 316,760 S312,780 318,795 S308,815 315,835"/>
<path d="M346,741 C350,752 344,770 348,785 S340,805 345,815 S348,828 344,835"/>
</g>
<g fill="none" stroke="#c8308a" stroke-width="0.8">
<path d="M285,752 C290,745 296,765 300,757"/><path d="M299,757 C305,748 312,768 317,757"/><path d="M317,757 C322,770 330,770 347,765"/>
<path d="M348,753 C352,745 356,760 360,766"/><path d="M360,766 C366,756 372,772 378,764"/><path d="M378,764 C383,758 385,768 388,766"/>
<path d="M317,757 C310,765 322,770 317,775"/><path d="M317,775 C310,782 323,788 320,793"/><path d="M301,791 C296,800 290,786 284,795"/>
<path d="M307,792 C312,798 316,790 320,793"/><path d="M320,793 C326,802 330,792 335,799"/><path d="M348,800 C354,790 360,806 367,799"/>
<path d="M367,799 C372,790 376,802 382,796"/><path d="M308,813 C300,805 318,800 320,793"/><path d="M307,823 C314,832 304,836 310,838"/>
<path d="M341,815 C334,822 346,825 340,828"/><path d="M340,799 C346,806 336,810 341,815"/><path d="M347,778 C340,784 350,792 348,800"/>
<path d="M347,765 C352,770 342,774 347,778"/><path d="M316,728 C322,733 310,740 316,747"/><path d="M348,741 C354,735 358,748 362,742"/>
<path d="M308,813 C314,818 302,820 307,823"/><path d="M381,796 C386,790 388,800 390,797"/>
</g>
<g fill="#e81818">
<circle cx="299" cy="757.3" r="2.3"/><circle cx="316.7" cy="757.3" r="2.3"/><circle cx="348.3" cy="753.3" r="2.3"/><circle cx="346.7" cy="765" r="2.3"/><circle cx="360" cy="766" r="2.3"/><circle cx="378.3" cy="764" r="2.3"/><circle cx="316.7" cy="775" r="2.3"/><circle cx="301.7" cy="791" r="2.3"/><circle cx="306.7" cy="791.7" r="2.3"/><circle cx="320" cy="792.7" r="2.3"/><circle cx="335" cy="799.3" r="2.3"/><circle cx="340" cy="799.3" r="2.3"/><circle cx="348.3" cy="800" r="2.3"/><circle cx="366.7" cy="799.3" r="2.3"/><circle cx="381.7" cy="795.7" r="2.3"/><circle cx="308.3" cy="812.7" r="2.3"/><circle cx="307.3" cy="823.3" r="2.3"/><circle cx="341.7" cy="815" r="2.3"/><circle cx="340" cy="828.3" r="2.3"/><circle cx="346.7" cy="778.3" r="2.3"/>
</g>
<line x1="322.3" y1="770" x2="322.3" y2="784" stroke="#e02020" stroke-width="1" marker-start="url(#ar)" marker-end="url(#ar)"/>
<text x="328" y="789" style="font-size:9.5px;fill:#262626;">F′<tspan dy="2.5" font-size="6.5">1</tspan></text>
<ellipse cx="499.5" cy="780" rx="85.5" ry="88" fill="#7ccbec"/>
<path d="M499.5,705 A75,75 0 1,0 499.6,705 Z M500,738.7 A43,43 0 1,1 499.9,738.7 Z" fill="url(#pbr)" fill-rule="evenodd"/>
<g clip-path="url(#cell)"><g transform="rotate(15 499.5 780)" stroke="#e3a32e" stroke-width="1.1">
<line x1="414.5" y1="722" x2="584.5" y2="722"/><line x1="414.5" y1="838" x2="584.5" y2="838"/><line x1="557.5" y1="695" x2="557.5" y2="865"/><line x1="441.5" y1="695" x2="441.5" y2="865"/>
<line x1="600.6" y1="760.9" x2="480.4" y2="881.1"/><line x1="480.4" y1="678.9" x2="600.6" y2="799.1"/><line x1="518.6" y1="881.1" x2="398.4" y2="760.9"/><line x1="398.4" y1="799.1" x2="518.6" y2="678.9"/>
</g></g>
<circle cx="500" cy="781.7" r="43" fill="#fff" stroke="#e01c1c" stroke-width="8"/>
<g stroke="#e02020" stroke-width="1" fill="none">
<line x1="500" y1="742" x2="500" y2="755" marker-end="url(#ar)"/>
<line x1="484" y1="749" x2="490" y2="757" marker-start="url(#ar)" marker-end="url(#ar)"/>
<line x1="516" y1="749" x2="510" y2="757" marker-start="url(#ar)" marker-end="url(#ar)"/>
<line x1="468" y1="757" x2="480" y2="764" marker-start="url(#ar)" marker-end="url(#ar)"/>
<line x1="532" y1="757" x2="520" y2="764" marker-start="url(#ar)" marker-end="url(#ar)"/>
</g>
<rect x="488" y="708" width="22" height="6.5" fill="#e81c1c"/>
<path d="M478,714 L520,714 L499,721.7 Z" fill="#e81c1c"/>
<text x="496" y="788" style="font-size:9.5px;fill:#262626;">F′<tspan dy="2.5" font-size="6.5">2</tspan></text>
<g fill="none" stroke="#ececec" stroke-width="16">
<path d="M633,712 C628,740 640,770 632,800 S638,840 632,865"/>
<path d="M675,712 C670,740 682,770 674,800 S680,840 674,865"/>
<path d="M718,712 C713,740 725,770 717,800 S723,840 717,865"/>
</g>
<g clip-path="url(#c3)" opacity="0.85"><rect x="623" y="712" width="112" height="154" fill="url(#pbr)"/></g>
<g fill="none" stroke="#f2a32e" stroke-width="1.2">
<path d="M631,713 C636,740 626,770 634,800 S628,840 635,865"/>
<path d="M676,713 C670,740 681,770 673,800 S682,840 675,865"/>
<path d="M716,713 C721,740 711,770 719,800 S712,840 719,865"/>
</g>
<g stroke="#e02020" stroke-width="1" fill="none">
<line x1="644.5" y1="730.7" x2="655.5" y2="736.6" marker-start="url(#ar)" marker-end="url(#ar)"/>
<line x1="688" y1="736.4" x2="698.7" y2="728.2" marker-start="url(#ar)" marker-end="url(#ar)"/>
<line x1="651.3" y1="759" x2="663.7" y2="765.3" marker-start="url(#ar)" marker-end="url(#ar)"/>
<line x1="691.3" y1="765" x2="702" y2="757.6" marker-start="url(#ar)" marker-end="url(#ar)"/>
<line x1="651.3" y1="787.4" x2="663.7" y2="793.3" marker-start="url(#ar)" marker-end="url(#ar)"/>
<line x1="689.6" y1="795.8" x2="700.4" y2="789.2" marker-start="url(#ar)" marker-end="url(#ar)"/>
<line x1="651.3" y1="818" x2="663.7" y2="823.3" marker-start="url(#ar)" marker-end="url(#ar)"/>
<line x1="692" y1="828.4" x2="702.7" y2="820.9" marker-start="url(#ar)" marker-end="url(#ar)"/>
<line x1="654.6" y1="851.4" x2="668" y2="858" marker-start="url(#ar)" marker-end="url(#ar)"/>
<line x1="699.6" y1="854.2" x2="711.4" y2="846.8" marker-start="url(#ar)" marker-end="url(#ar)"/>
</g>
<rect x="665" y="698.3" width="16.7" height="6.7" fill="#e81c1c"/>
<path d="M652.7,705 L691.7,705 L672,711.7 Z" fill="#e81c1c"/>
<text x="719" y="731" style="font-size:9.5px;fill:#262626;">F′<tspan dy="2.5" font-size="6.5">3</tspan></text>
<g style="font-size:9.5px;fill:#262626;" text-anchor="middle">
<text x="293.3" y="698">(1)</text><text x="397.7" y="698">(2)</text><text x="596" y="698">(3)</text>
<text x="498.3" y="694">Compress</text><text x="670" y="694">Compress</text>
<text x="510.7" y="889">Three recoverable elements</text>
</g>
</svg>
</body></html>
